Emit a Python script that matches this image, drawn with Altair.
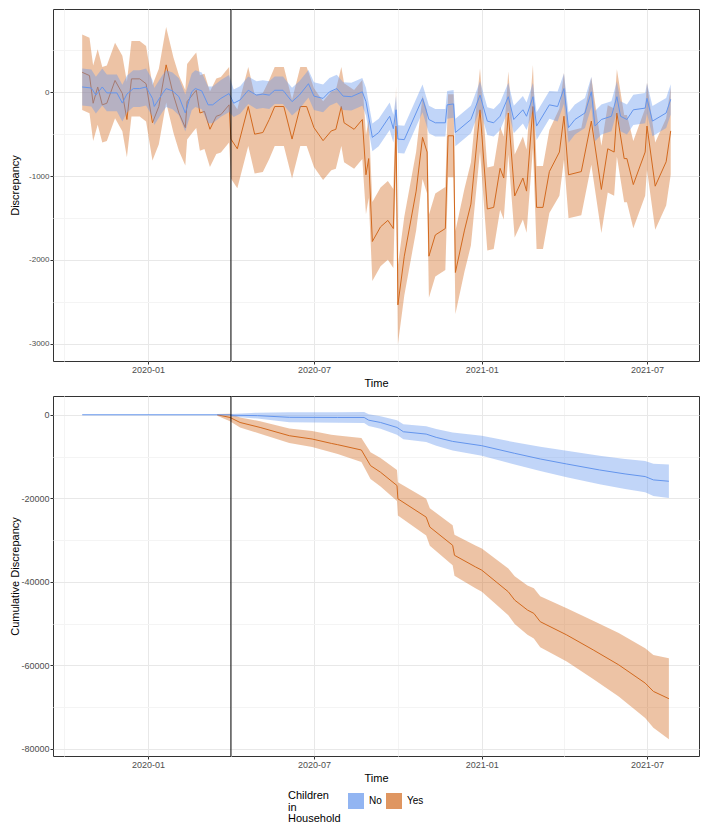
import altair as alt
import pandas as pd

BASE = pd.Timestamp("2020-01-01")
groups = ["No", "Yes"]
line_colors = ["#6495ED", "#D2691E"]
lockdown = ["2020-04-01"]
x_range = ["2019-09-19", "2021-08-27"]
x_ticks = ["2019-10-01", "2020-01-01", "2020-04-01", "2020-07-01",
           "2020-10-01", "2021-01-01", "2021-04-01", "2021-07-01"]
top_y_ticks = [-3000, -2500, -2000, -1500, -1000, -500, 0, 500]
top_y_range = [-3206, 992]
bot_y_ticks = [-80000, -70000, -60000, -50000, -40000, -30000, -20000, -10000, 0]
bot_y_range = [-81700, 4500]

# ---- Discrepancy (days since 2020-01-01) ----
no_day = [-72, -62, -57, -50, -45, -34, -28, -23, -16, -9,
          -2, 5, 7, 16, 20, 27, 34, 41, 48, 52,
          59, 66, 71, 80, 89, 94, 101, 110, 119, 126,
          133, 139, 148, 158, 166, 176, 182, 192, 199, 207,
          214, 223, 235, 239, 246, 253, 265, 269, 272, 274,
          281, 301, 308, 315, 326, 328, 335, 337, 354, 364,
          372, 379, 386, 395, 401, 411, 415, 422, 426, 440,
          449, 456, 461, 468, 479, 486, 490, 497, 508, 514,
          518, 525, 532, 545, 547, 553, 568, 573]
no_val = [62, 50, -35, 62, -8, -8, -130, -23, 43, 43,
          62, -74, -170, -16, 43, 16, -54, -248, 4, 43,
          16, -151, -151, -74, -16, -132, -93, 23, -35, -23,
          -35, 23, 23, -113, -35, 101, -47, -74, 4, 43,
          -47, -54, 4, -113, -539, -481, -287, -435, -210, -559,
          -566, -74, -326, -365, -365, -151, -140, -481, -326, -35,
          -345, -365, -287, -54, -326, -210, -287, -54, -404, -151,
          -171, 43, -423, -326, -248, 4, -404, -326, -287, -54,
          -287, -326, -210, -190, -74, -345, -248, -85]
no_half = [220] * 25 + [165] * 45 + [180] * 18

yes_day = [-72, -64, -60, -55, -50, -45, -36, -28, -23, -18,
           -9, -2, 5, 12, 20, 28, 34, 41, 43, 50,
           53, 57, 62, 68, 75, 80, 89, 91, 98, 110,
           117, 126, 133, 139, 149, 158, 167, 174, 182, 192,
           201, 206, 212, 215, 226, 235, 239, 242, 246, 255,
           263, 269, 272, 274, 281, 294, 301, 306, 308, 315,
           326, 329, 335, 337, 347, 354, 364, 372, 379, 386,
           390, 395, 402, 411, 415, 422, 426, 433, 440, 451,
           456, 461, 475, 486, 497, 504, 511, 514, 522, 525,
           532, 545, 547, 556, 568, 573]
yes_val = [237, 198, -132, 62, -151, -132, 140, -16, -326, 159,
           159, 101, -365, -171, 326, -35, -248, -423, -113, -16,
           23, -248, -229, -442, -287, -268, -151, -559, -675, -171,
           -501, -481, -326, -171, -171, -559, -171, -171, -423, -578,
           -462, -443, -171, -365, -443, -326, -985, -792, -1781, -1606,
           -1529, -1626, -404, -2537, -1956, -1180, -539, -714, -1956, -1703,
           -1626, -520, -520, -2150, -1645, -1335, -210, -1393, -1374, -908,
           -1024, -248, -1238, -1024, -1180, -171, -1374, -1374, -947, -714,
           -287, -985, -947, -345, -1160, -675, -714, -248, -792, -792,
           -1102, -714, -404, -1121, -830, -462]
yes_half = [450] * 27 + [470] * 29 + [495] * 23 + [520] * 17

# ---- Cumulative discrepancy ----
cno_day = [-72, 90, 91, 120, 155, 208, 237, 242, 255, 273, 280, 305, 316, 334,
           366, 402, 430, 459, 495, 523, 545, 554, 571]
cno_val = [0, 0, -100, -200, -600, -640, -640, -1290, -1840, -3030, -4060, -4620,
           -5410, -6370, -7400, -9230, -10580, -11780, -13210, -14160, -14790,
           -15590, -15910]
cno_half = [0, 0, 300, 700, 1200, 1250, 1300, 1400, 1500, 1750, 1800, 1900, 2000,
            2150, 2400, 2650, 2900, 3150, 3400, 3600, 3750, 3850, 4000]

cyes_day = [76, 90, 101, 123, 155, 180, 201, 208, 234, 244, 255, 273, 274, 305,
            309, 334, 336, 359, 366, 395, 402, 416, 423, 430, 459, 488, 516, 545,
            554, 571]
cyes_val = [0, -640, -1840, -3030, -5010, -5800, -6850, -7160, -8430, -12170,
            -13760, -16940, -20120, -24500, -26880, -31250, -33640, -36420,
            -37210, -42380, -44370, -46750, -47550, -49540, -52710, -56290,
            -59870, -64240, -66230, -67980]
cyes_half = [200, 900, 1200, 1500, 1750, 1900, 2100, 2200, 2900, 3200, 3400,
             3700, 3975, 4400, 4500, 4800, 4900, 5100, 5170, 5600, 5700, 5900,
             6000, 6100, 6360, 7000, 7600, 8350, 8700, 9700]


def frame(days, vals, halves, group):
    return pd.DataFrame({
        "date": [BASE + pd.Timedelta(days=d) for d in days],
        "val": vals,
        "lo": [v - h for v, h in zip(vals, halves)],
        "hi": [v + h for v, h in zip(vals, halves)],
        "group": group,
    })


top_df = pd.concat([frame(no_day, no_val, no_half, "No"),
                    frame(yes_day, yes_val, yes_half, "Yes")])
bot_df = pd.concat([frame(cno_day, cno_val, cno_half, "No"),
                    frame(cyes_day, cyes_val, cyes_half, "Yes")])


def dt(s):
    t = pd.Timestamp(s)
    return alt.DateTime(year=t.year, month=t.month, date=t.day)


FONT = "Liberation Sans"
major_x = "month(datum.value) % 6 === 0"
PLOT_W = 646


def x_enc():
    return alt.X(
        "date:T",
        scale=alt.Scale(domain=[dt(x_range[0]), dt(x_range[1])]),
        axis=alt.Axis(
            values=[dt(s) for s in x_ticks],
            labelExpr=f"{major_x} ? timeFormat(datum.value, '%Y-%m') : ''",
            tickColor={"condition": {"test": f"!({major_x})", "value": "transparent"},
                       "value": "#333333"},
            gridColor={"condition": {"test": f"!({major_x})", "value": "#F4F4F4"},
                       "value": "#E8E8E8"},
            labelOverlap=False, labelFlush=False,
        ),
        title="Time",
    )


def y_enc(field, ticks, rng, step, title, label_size):
    major = f"datum.value % {step} === 0"
    return alt.Y(
        field,
        scale=alt.Scale(domain=rng, nice=False, zero=False),
        axis=alt.Axis(
            values=ticks,
            labelExpr=f"{major} ? '' + datum.value : ''",
            tickColor={"condition": {"test": f"!({major})", "value": "transparent"},
                       "value": "#333333"},
            gridColor={"condition": {"test": f"!({major})", "value": "#F4F4F4"},
                       "value": "#E8E8E8"},
            labelOverlap=False, labelFontSize=label_size, titleX=-33,
        ),
        title=title,
    )


fill_scale = alt.Scale(domain=groups, range=line_colors)
stroke_scale = alt.Scale(domain=groups, range=line_colors)
legend = alt.Legend(
    title=["Children", "in", "Household"],
    orient="none", legendX=235, legendY=784,
    direction="horizontal", titleOrient="left",
    titleFontSize=11, titleFontWeight="normal", titleColor="black",
    titleFont=FONT, titleLineHeight=11.5, titlePadding=7, titleBaseline="top",
    labelFont=FONT, labelFontSize=10, labelColor="black", labelOffset=5,
    symbolType="square", symbolSize=256, symbolOpacity=0.7,
    symbolStrokeWidth=0, columnPadding=4,
)


def panel(df, ticks, rng, step, title, height, label_size):
    base = alt.Chart(df)
    layers = []
    for g in ["Yes", "No"]:
        area = base.transform_filter(alt.datum.group == g).mark_area(
            fillOpacity=0.4, strokeWidth=0
        ).encode(
            x=x_enc(),
            y=y_enc("lo:Q", ticks, rng, step, title, label_size),
            y2="hi:Q",
            fill=alt.Fill("group:N", scale=fill_scale, legend=legend),
        )
        line = base.transform_filter(alt.datum.group == g).mark_line(
            strokeWidth=1
        ).encode(
            x=x_enc(),
            y=y_enc("val:Q", ticks, rng, step, title, label_size),
            stroke=alt.Stroke("group:N", scale=stroke_scale, legend=None),
        )
        layers += [area, line]
    rule = alt.Chart(pd.DataFrame({"date": pd.to_datetime(lockdown)})).mark_rule(
        color="black", strokeWidth=1
    ).encode(x=x_enc())
    layers.append(rule)
    return alt.layer(*layers).properties(width=PLOT_W, height=height)


top = panel(top_df, top_y_ticks, top_y_range, 1000, "Discrepancy", 352, 8)
bottom = panel(bot_df, bot_y_ticks, bot_y_range, 20000, "Cumulative Discrepancy", 360, 9)

chart = alt.vconcat(top, bottom, spacing=6).resolve_scale(
    fill="shared", stroke="shared"
).resolve_legend(fill="shared").properties(
    padding=0, background="white"
).configure_view(
    stroke="#333333", strokeWidth=1, fill="white"
).configure_axis(
    labelFont=FONT, titleFont=FONT, labelFontSize=9, labelColor="#4D4D4D",
    titleFontSize=11, titleFontWeight="normal", titleColor="black",
    domain=False, tickSize=3, labelPadding=1, titlePadding=3, gridWidth=1,
)

chart.save("out.html", embed_options={"renderer": "svg", "actions": False})
